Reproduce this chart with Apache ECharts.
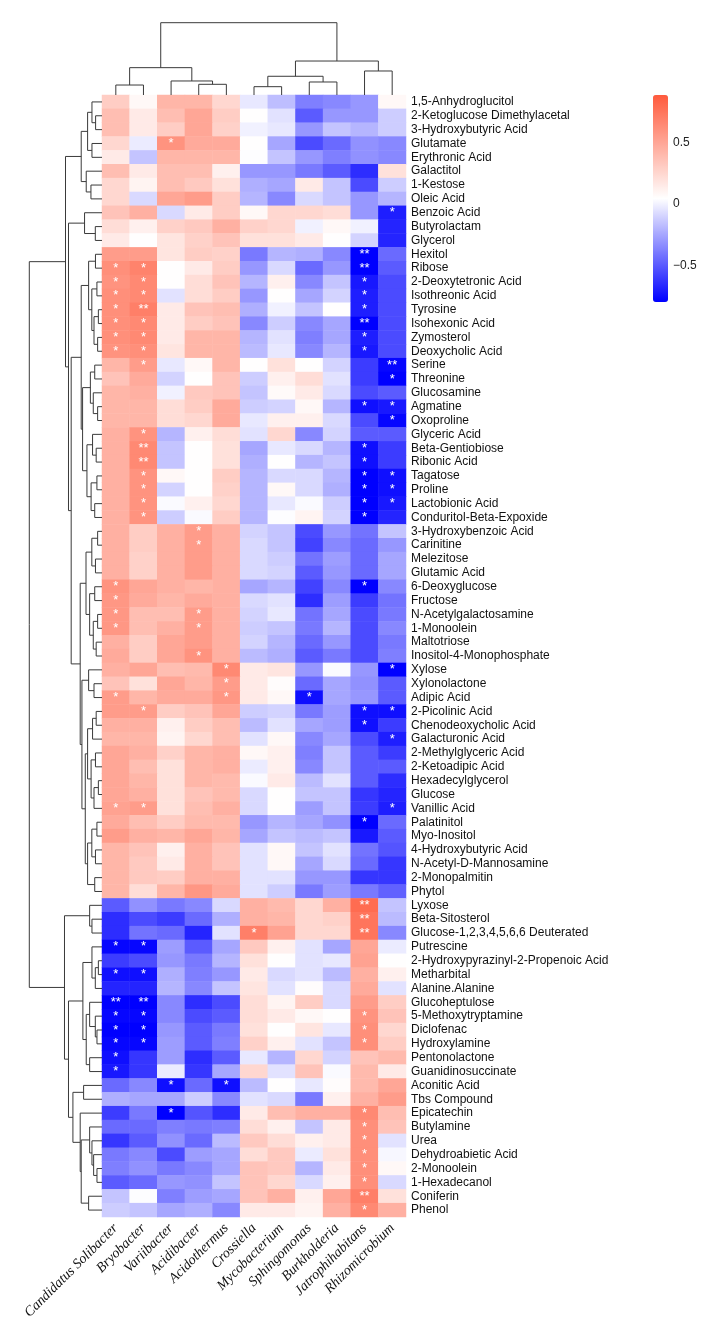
<!DOCTYPE html>
<html><head><meta charset="utf-8">
<script src="https://cdn.jsdelivr.net/npm/echarts@6/dist/echarts.min.js"></script>
<style>html,body{margin:0;padding:0;background:#fff}#c{width:712px;height:1336px}</style>
</head><body><div id="c"></div>
<script>
const genera = ['Candidatus Solibacter','Bryobacter','Variibacter','Acidibacter','Acidothermus','Crossiella','Mycobacterium','Sphingomonas','Burkholderia','Jatrophihabitans','Rhizomicrobium'];
const metabolites = ['1,5-Anhydroglucitol','2-Ketoglucose Dimethylacetal','3-Hydroxybutyric Acid','Glutamate','Erythronic Acid','Galactitol','1-Kestose','Oleic Acid','Benzoic Acid','Butyrolactam','Glycerol','Hexitol','Ribose','2-Deoxytetronic Acid','Isothreonic Acid','Tyrosine','Isohexonic Acid','Zymosterol','Deoxycholic Acid','Serine','Threonine','Glucosamine','Agmatine','Oxoproline','Glyceric Acid','Beta-Gentiobiose','Ribonic Acid','Tagatose','Proline','Lactobionic Acid','Conduritol-Beta-Expoxide','3-Hydroxybenzoic Acid','Carinitine','Melezitose','Glutamic Acid','6-Deoxyglucose','Fructose','N-Acetylgalactosamine','1-Monoolein','Maltotriose','Inositol-4-Monophosphate','Xylose','Xylonolactone','Adipic Acid','2-Picolinic Acid','Chenodeoxycholic Acid','Galacturonic Acid','2-Methylglyceric Acid','2-Ketoadipic Acid','Hexadecylglycerol','Glucose','Vanillic Acid','Palatinitol','Myo-Inositol','4-Hydroxybutyric Acid','N-Acetyl-D-Mannosamine','2-Monopalmitin','Phytol','Lyxose','Beta-Sitosterol','Glucose-1,2,3,4,5,6,6 Deuterated','Putrescine','2-Hydroxypyrazinyl-2-Propenoic Acid','Metharbital','Alanine.Alanine','Glucoheptulose','5-Methoxytryptamine','Diclofenac','Hydroxylamine','Pentonolactone','Guanidinosuccinate','Aconitic Acid','Tbs Compound','Epicatechin','Butylamine','Urea','Dehydroabietic Acid','2-Monoolein','1-Hexadecanol','Coniferin','Phenol'];

// correlation values, one row per metabolite, columns follow genera
const values = [
[0.3,0.08,0.42,0.42,0.25,-0.03,-0.17,-0.38,-0.35,-0.3,0.08],
[0.38,0.15,0.38,0.5,0.3,0.05,-0.05,-0.5,-0.3,-0.3,-0.12],
[0.38,0.15,0.3,0.5,0.28,0.0,-0.03,-0.3,-0.15,-0.2,-0.12],
[0.25,-0.02,0.6,0.48,0.48,0.05,-0.25,-0.55,-0.45,-0.32,-0.35],
[0.15,-0.15,0.42,0.42,0.42,0.04,-0.15,-0.3,-0.38,-0.32,-0.35],
[0.38,0.15,0.38,0.38,0.12,-0.3,-0.3,-0.4,-0.5,-0.65,0.2],
[0.25,0.1,0.38,0.32,0.2,-0.22,-0.25,0.15,-0.15,-0.55,-0.12],
[0.25,-0.08,0.5,0.55,0.3,-0.2,-0.35,-0.08,-0.15,-0.3,-0.2],
[0.35,0.45,-0.08,0.15,0.3,0.08,0.25,0.25,0.22,-0.3,-0.7],
[0.22,0.12,0.28,0.32,0.45,0.28,0.25,0.0,0.08,0.0,-0.68],
[0.15,0.05,0.18,0.28,0.35,0.2,0.2,0.15,0.05,-0.1,-0.68],
[0.55,0.55,0.18,0.3,0.28,-0.4,-0.2,-0.22,-0.35,-0.8,-0.45],
[0.62,0.68,0.05,0.15,0.3,-0.3,-0.08,-0.45,-0.3,-0.8,-0.5],
[0.6,0.65,0.05,0.22,0.35,-0.2,0.12,-0.35,-0.15,-0.72,-0.55],
[0.62,0.65,-0.05,0.22,0.3,-0.3,0.05,-0.25,-0.1,-0.7,-0.55],
[0.62,0.7,0.15,0.35,0.38,-0.22,0.0,-0.15,0.05,-0.7,-0.55],
[0.62,0.65,0.15,0.3,0.35,-0.35,-0.12,-0.35,-0.25,-0.8,-0.55],
[0.62,0.65,0.15,0.42,0.42,-0.2,-0.05,-0.38,-0.25,-0.7,-0.55],
[0.6,0.62,0.18,0.42,0.42,-0.18,-0.03,-0.35,-0.2,-0.72,-0.55],
[0.42,0.55,-0.03,0.08,0.42,0.05,0.2,0.05,-0.1,-0.6,-0.78],
[0.35,0.48,-0.1,0.05,0.35,-0.12,0.12,0.22,-0.05,-0.6,-0.8],
[0.42,0.45,0.0,0.32,0.35,-0.15,0.07,0.15,-0.08,-0.55,-0.5],
[0.42,0.42,0.22,0.3,0.48,-0.12,-0.1,0.08,-0.2,-0.75,-0.72],
[0.42,0.42,0.22,0.25,0.48,-0.03,0.12,0.12,-0.08,-0.55,-0.78],
[0.45,0.6,-0.2,0.12,0.22,-0.05,0.25,-0.35,-0.1,-0.5,-0.5],
[0.45,0.65,-0.15,0.05,0.2,-0.25,-0.03,-0.08,-0.2,-0.75,-0.6],
[0.45,0.65,-0.15,0.05,0.2,-0.22,0.05,-0.2,-0.15,-0.75,-0.6],
[0.45,0.6,0.08,0.05,0.3,-0.2,-0.08,-0.08,-0.2,-0.8,-0.75],
[0.45,0.6,-0.1,0.05,0.28,-0.2,0.08,-0.08,-0.22,-0.8,-0.75],
[0.45,0.6,0.03,0.12,0.25,-0.2,-0.03,0.03,-0.12,-0.8,-0.72],
[0.45,0.6,-0.12,0.03,0.3,-0.2,0.04,0.1,-0.1,-0.8,-0.68],
[0.45,0.3,0.45,0.55,0.45,-0.1,-0.15,-0.55,-0.3,-0.42,-0.15],
[0.45,0.3,0.45,0.55,0.45,-0.08,-0.15,-0.58,-0.35,-0.45,-0.3],
[0.45,0.28,0.45,0.55,0.45,-0.08,-0.12,-0.42,-0.28,-0.45,-0.25],
[0.45,0.28,0.45,0.55,0.45,-0.08,-0.1,-0.5,-0.3,-0.45,-0.25],
[0.6,0.5,0.45,0.42,0.45,-0.25,-0.2,-0.58,-0.35,-0.8,-0.35],
[0.58,0.48,0.42,0.48,0.45,-0.08,-0.05,-0.65,-0.28,-0.6,-0.42],
[0.58,0.38,0.38,0.55,0.45,-0.1,-0.03,-0.42,-0.25,-0.55,-0.4],
[0.58,0.38,0.45,0.55,0.45,-0.12,-0.15,-0.4,-0.2,-0.55,-0.35],
[0.45,0.3,0.5,0.55,0.45,-0.1,-0.2,-0.45,-0.3,-0.55,-0.4],
[0.48,0.3,0.5,0.6,0.45,-0.18,-0.22,-0.5,-0.4,-0.55,-0.38],
[0.45,0.5,0.38,0.4,0.65,0.15,0.18,-0.3,0.03,-0.3,-0.8],
[0.35,0.2,0.5,0.42,0.55,0.15,0.06,-0.45,-0.25,-0.32,-0.5],
[0.55,0.42,0.48,0.48,0.58,0.15,0.08,-0.75,-0.25,-0.3,-0.5],
[0.55,0.55,0.3,0.35,0.5,-0.12,-0.1,-0.4,-0.28,-0.75,-0.75],
[0.45,0.45,0.12,0.3,0.38,-0.18,-0.05,-0.25,-0.28,-0.75,-0.6],
[0.42,0.42,0.1,0.25,0.38,-0.05,0.08,-0.35,-0.25,-0.55,-0.7],
[0.5,0.45,0.28,0.42,0.45,0.08,0.12,-0.38,-0.15,-0.5,-0.6],
[0.5,0.38,0.2,0.42,0.45,-0.02,0.12,-0.35,-0.15,-0.5,-0.5],
[0.5,0.42,0.2,0.42,0.4,0.03,0.15,-0.18,-0.05,-0.5,-0.65],
[0.5,0.45,0.2,0.35,0.4,-0.08,0.05,-0.15,-0.15,-0.62,-0.68],
[0.52,0.55,0.2,0.38,0.45,-0.08,0.05,-0.28,-0.15,-0.6,-0.7],
[0.48,0.38,0.3,0.4,0.4,-0.3,-0.2,-0.25,-0.32,-0.8,-0.45],
[0.55,0.45,0.42,0.5,0.42,-0.25,-0.15,-0.18,-0.15,-0.72,-0.5],
[0.42,0.35,0.12,0.45,0.35,-0.05,0.08,-0.15,-0.05,-0.42,-0.52],
[0.42,0.32,0.15,0.45,0.35,-0.05,0.08,-0.25,-0.08,-0.45,-0.62],
[0.42,0.32,0.3,0.45,0.45,-0.05,-0.05,-0.3,-0.3,-0.62,-0.62],
[0.42,0.22,0.42,0.58,0.48,-0.05,-0.12,-0.4,-0.28,-0.4,-0.48],
[-0.5,-0.32,-0.4,-0.35,-0.08,0.45,0.4,0.25,0.45,0.8,-0.15],
[-0.65,-0.55,-0.6,-0.45,-0.22,0.45,0.42,0.25,0.28,0.75,-0.18],
[-0.65,-0.42,-0.45,-0.68,-0.05,0.7,0.52,0.25,0.25,0.75,-0.35],
[-0.78,-0.78,-0.28,-0.5,-0.25,0.32,0.12,-0.05,-0.25,0.5,-0.02],
[-0.6,-0.55,-0.3,-0.4,-0.2,0.2,0.05,-0.05,-0.03,0.52,0.05],
[-0.75,-0.75,-0.22,-0.38,-0.3,0.15,-0.08,-0.05,-0.18,0.45,0.12],
[-0.68,-0.68,-0.2,-0.35,-0.15,0.18,-0.05,0.06,-0.08,0.48,-0.05],
[-0.8,-0.8,-0.35,-0.65,-0.55,0.22,0.1,0.3,-0.08,0.55,0.3],
[-0.78,-0.78,-0.35,-0.55,-0.5,0.22,0.15,0.08,0.05,0.6,0.35],
[-0.8,-0.8,-0.3,-0.5,-0.4,0.2,0.05,0.18,-0.03,0.62,0.25],
[-0.78,-0.78,-0.28,-0.5,-0.38,0.28,0.12,-0.05,-0.15,0.62,0.3],
[-0.75,-0.62,-0.28,-0.65,-0.5,-0.03,-0.2,0.25,-0.1,0.35,0.4],
[-0.72,-0.62,-0.02,-0.62,-0.25,0.25,-0.05,0.35,0.03,0.4,0.15],
[-0.45,-0.35,-0.75,-0.45,-0.75,-0.18,0.05,-0.03,0.06,0.4,0.5],
[-0.22,-0.25,-0.25,-0.12,-0.35,-0.05,-0.08,-0.4,0.12,0.45,0.55],
[-0.6,-0.4,-0.8,-0.52,-0.65,0.15,0.38,0.45,0.45,0.65,0.38],
[-0.45,-0.45,-0.38,-0.4,-0.38,0.22,0.12,-0.15,0.15,0.62,0.35],
[-0.62,-0.5,-0.32,-0.45,-0.18,0.32,0.22,0.12,0.15,0.62,-0.05],
[-0.4,-0.35,-0.55,-0.28,-0.25,0.22,0.32,-0.02,0.2,0.62,0.02],
[-0.38,-0.32,-0.4,-0.35,-0.25,0.35,0.32,-0.2,0.15,0.62,0.08],
[-0.5,-0.45,-0.3,-0.32,-0.15,0.35,0.25,-0.08,0.12,0.62,-0.08],
[-0.15,0.04,-0.38,-0.28,-0.25,0.35,0.45,0.12,0.5,0.7,0.2],
[-0.12,-0.15,-0.25,-0.22,-0.35,0.15,0.15,0.1,0.45,0.65,0.45]
];

// significance marks: [metabolite row, genus column, mark]
const stars = [
[3,2,'*'],[8,10,'*'],[11,9,'**'],
[12,0,'*'],[12,1,'*'],[12,9,'**'],
[13,0,'*'],[13,1,'*'],[13,9,'*'],
[14,0,'*'],[14,1,'*'],[14,9,'*'],
[15,0,'*'],[15,1,'**'],[15,9,'*'],
[16,0,'*'],[16,1,'*'],[16,9,'**'],
[17,0,'*'],[17,1,'*'],[17,9,'*'],
[18,0,'*'],[18,1,'*'],[18,9,'*'],
[19,1,'*'],[19,10,'**'],[20,10,'*'],
[22,9,'*'],[22,10,'*'],[23,10,'*'],
[24,1,'*'],[25,1,'**'],[25,9,'*'],[26,1,'**'],[26,9,'*'],
[27,1,'*'],[27,9,'*'],[27,10,'*'],
[28,1,'*'],[28,9,'*'],[28,10,'*'],
[29,1,'*'],[29,9,'*'],[29,10,'*'],
[30,1,'*'],[30,9,'*'],
[31,3,'*'],[32,3,'*'],
[35,0,'*'],[35,9,'*'],[36,0,'*'],
[37,0,'*'],[37,3,'*'],[38,0,'*'],[38,3,'*'],[40,3,'*'],
[41,4,'*'],[41,10,'*'],[42,4,'*'],
[43,0,'*'],[43,4,'*'],[43,7,'*'],
[44,1,'*'],[44,9,'*'],[44,10,'*'],
[45,9,'*'],[46,10,'*'],
[51,0,'*'],[51,1,'*'],[51,10,'*'],[52,9,'*'],
[58,9,'**'],[59,9,'**'],[60,5,'*'],[60,9,'**'],
[61,0,'*'],[61,1,'*'],[63,0,'*'],[63,1,'*'],
[65,0,'**'],[65,1,'**'],
[66,0,'*'],[66,1,'*'],[66,9,'*'],
[67,0,'*'],[67,1,'*'],[67,9,'*'],
[68,0,'*'],[68,1,'*'],[68,9,'*'],
[69,0,'*'],[70,0,'*'],
[71,2,'*'],[71,4,'*'],
[73,2,'*'],[73,9,'*'],
[74,9,'*'],[75,9,'*'],[76,9,'*'],[77,9,'*'],[78,9,'*'],
[79,9,'**'],[80,9,'*']
];

// dendrograms: internal node = [height, left, right], leaf = index
const colTree = [1.0,
  [0.378, [0.138, 0, 1], [0.194, 2, [0.148, 3, 4]]],
  [0.47, [0.259, [0.115, 5, 6], [0.18, 7, 8]], [0.332, 9, 10]]];

const rowTree = [1.0,
  [0.502,
    [0.286,
      [0.198, [0.138, 0, [0.088, 1, 2]], [0.138, 3, 4]],
      [0.217, 5, [0.152, 6, 7]]],
    [0.461,
      [0.24, 8, [0.092, 9, 10]],
      [0.424,
        [0.286,
          [0.184, [0.09, 11, 12], [0.14, [0.07, 13, 14], [0.11, [0.05, 15, 16], [0.06, 17, 18]]]],
          [0.267,
            [0.16, [0.1, 19, 20], [0.12, 21, [0.06, 22, 23]]],
            [0.207, [0.13, 24, [0.08, 25, 26]], [0.15, [0.07, 27, 28], [0.1, 29, 30]]]]],
        [0.3,
          [0.22, [0.14, [0.06, 31, 32], [0.09, 33, 34]], [0.17, [0.1, 35, 36], [0.12, [0.06, 37, 38], [0.08, 39, 40]]]],
          [0.276,
            [0.184, 41, [0.11, 42, 43]],
            [0.23,
              [0.198, [0.13, [0.08, 44, 45], 46], [0.15, [0.09, 47, 48], [0.11, [0.05, 49, 50], 51]]],
              [0.198, [0.14, [0.07, 52, 53], [0.09, 54, 55]], [0.1, 56, 57]]]]]]]],
  [0.516,
    [0.17, 58, [0.138, 59, 60]],
    [0.461,
      [0.263,
        [0.138, 61, [0.092, [0.05, 62, 63], 64]],
        [0.217, [0.17, 65, [0.092, 66, [0.069, 67, 68]]], [0.17, 69, 70]]],
      [0.40,
        [0.253, 71, 72],
        [0.3, 73,
          [0.286,
            [0.17, 74, [0.138, 75, [0.115, 76, [0.069, 77, 78]]]],
            [0.184, 79, 80]]]]]]];

const colorTicks = [-0.5, 0, 0.5];
const colorRange = [-0.8, 0.89];

function segments(tree, out) {
  if (typeof tree === 'number') return {pos: tree, h: 0};
  const h = tree[0];
  const a = segments(tree[1], out), b = segments(tree[2], out);
  out.push([a.h, a.pos, h, a.pos]);
  out.push([b.h, b.pos, h, b.pos]);
  out.push([h, a.pos, h, b.pos]);
  return {pos: (a.pos + b.pos) / 2, h: h};
}
const rowSegs = []; segments(rowTree, rowSegs);
const colSegsRaw = []; segments(colTree, colSegsRaw);
const colSegs = colSegsRaw.map(s => [s[1], s[0], s[3], s[2]]);

const starMap = {};
stars.forEach(s => { starMap[s[0] + '_' + s[1]] = s[2]; });
const heatData = [];
values.forEach((row, r) => row.forEach((v, c) => heatData.push([c, r, v])));

function lineItem(params, api) {
  const p1 = api.coord([api.value(0), api.value(1)]);
  const p2 = api.coord([api.value(2), api.value(3)]);
  return {type: 'line', shape: {x1: p1[0], y1: p1[1], x2: p2[0], y2: p2[1]},
    style: {stroke: '#3a3a3a', lineWidth: 1}};
}

const chart = echarts.init(document.getElementById('c'), null, {renderer: 'canvas'});
chart.setOption({
  animation: false,
  backgroundColor: '#fff',
  grid: [
    {left: 102, top: 95, width: 304, height: 1122},
    {left: 102, top: 22.7, width: 304, height: 72.3},
    {left: 29.3, top: 95, width: 72.7, height: 1122},
    {left: 653, top: 95, width: 15, height: 207}
  ],
  xAxis: [
    {type: 'category', gridIndex: 0, data: genera, position: 'bottom',
      axisLine: {show: false}, axisTick: {show: false}, splitLine: {show: false},
      axisLabel: {interval: 0, rotate: 45, margin: 9, fontFamily: 'Liberation Serif', fontStyle: 'italic', fontSize: 14, color: '#111'}},
    {type: 'value', gridIndex: 1, min: -0.5, max: 10.5, show: false},
    {type: 'value', gridIndex: 2, min: 0, max: 1, inverse: true, show: false},
    {type: 'value', gridIndex: 3, min: 0, max: 1, show: false}
  ],
  yAxis: [
    {type: 'category', gridIndex: 0, data: metabolites, inverse: true, position: 'right',
      axisLine: {show: false}, axisTick: {show: false}, splitLine: {show: false},
      axisLabel: {interval: 0, margin: 5, fontFamily: 'Liberation Sans', fontSize: 12, color: '#111'}},
    {type: 'value', gridIndex: 1, min: 0, max: 1, show: false},
    {type: 'value', gridIndex: 2, min: -0.5, max: 80.5, inverse: true, show: false},
    {type: 'value', gridIndex: 3, min: colorRange[0], max: colorRange[1], position: 'right',
      axisLine: {show: false}, axisTick: {show: false}, splitLine: {show: false},
      axisLabel: {customValues: colorTicks, margin: 5, fontFamily: 'Liberation Sans', fontSize: 12, color: '#222',
        formatter: v => v === 0 ? '0' : (v < 0 ? '\u2212' + Math.abs(v) : String(v))}}
  ],
  visualMap: {
    type: 'continuous', seriesIndex: 0, min: colorRange[0], max: colorRange[1],
    inRange: {color: ['#0000ff', '#ffffff', '#ff5a3c']},
    orient: 'vertical', left: 653, top: 95, itemWidth: 15, itemHeight: 207,
    calculable: false, padding: 0, hoverLink: false, text: null
  },
  series: [
    {type: 'heatmap', xAxisIndex: 0, yAxisIndex: 0, data: heatData, silent: true,
      emphasis: {disabled: true},
      label: {show: true, color: '#fff', fontSize: 13, fontFamily: 'Liberation Sans',
        formatter: p => starMap[p.value[1] + '_' + p.value[0]] || ''}},
    {type: 'custom', xAxisIndex: 1, yAxisIndex: 1, data: colSegs, renderItem: lineItem, silent: true, clip: false},
    {type: 'custom', xAxisIndex: 2, yAxisIndex: 2, data: rowSegs, renderItem: lineItem, silent: true, clip: false}
  ]
});
</script>
</body></html>
